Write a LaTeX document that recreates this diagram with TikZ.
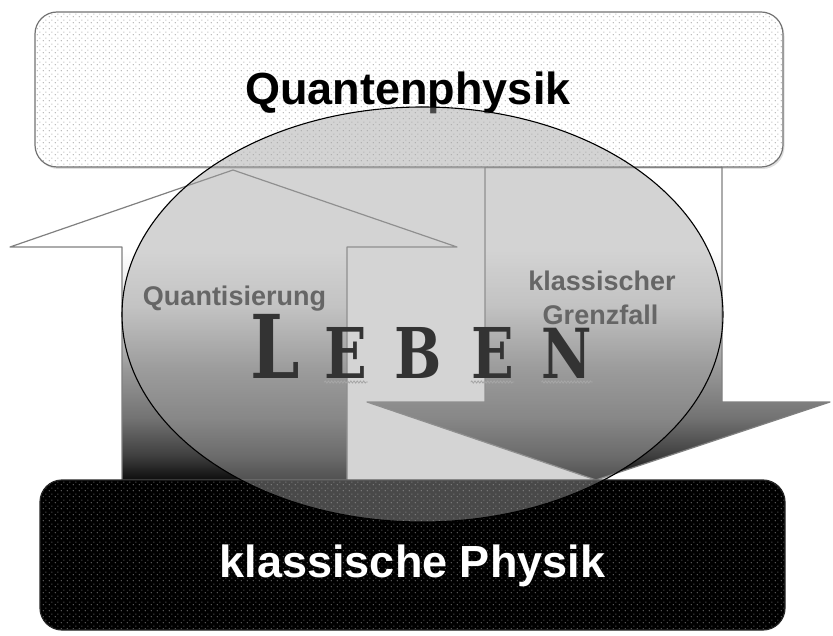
\documentclass[tikz,border=0pt]{standalone}
\usepackage{fontspec}
\setmainfont{Liberation Sans}
\newfontfamily\lebenfont{DejaVu Serif}
\usetikzlibrary{patterns, decorations.pathmorphing, shadows}

% Punktraster fuer die beiden Kaesten
\pgfdeclarepatternformonly{feinpunkte}{\pgfpointorigin}{\pgfqpoint{6pt}{6pt}}{\pgfqpoint{6pt}{6pt}}{%
  \pgfpathcircle{\pgfqpoint{1.5pt}{1.5pt}}{0.7pt}
  \pgfpathcircle{\pgfqpoint{4.5pt}{4.5pt}}{0.7pt}
  \pgfusepath{fill}}

% Verlauf der Pfeile: oben weiss, unten schwarz
\pgfdeclareverticalshading{pfeilverlauf}{100bp}{color(0bp)=(black!95); color(25bp)=(black!95);
  color(29bp)=(black!75); color(35bp)=(black!55); color(43bp)=(black!40);
  color(53bp)=(black!12); color(62bp)=(white); color(100bp)=(white)}

\begin{document}
\begin{tikzpicture}[x=1pt, y=-1pt, line cap=round, line join=round,
    kasten/.style={rounded corners=22pt, inner sep=0pt, line width=1.2pt},
    pfeil/.style={shading=pfeilverlauf, draw=black!50, line width=1.2pt},
    pfeiltext/.style={anchor=base, text=black!60, inner sep=0pt, font=\fontsize{27}{34}\selectfont\bfseries},
    titel/.style={anchor=base, font=\fontsize{45}{54}\selectfont\bfseries},
    buchstabe/.style={anchor=base, text=black!80, inner sep=0pt},
    kringel/.style={draw=black!35, line width=0.8pt, decorate,
      decoration={zigzag, segment length=3.2pt, amplitude=1.2pt}}]

  \useasboundingbox (0,0) rectangle (833,636);

  % --- Parameter ---
  \def\Rx{300.5}   % halbe Breite der Ellipse
  \def\Ry{207.5}   % halbe Hoehe der Ellipse
  \def\Basis{379}  % Grundlinie von LEBEN

  % --- Pfeil nach oben (Quantisierung) ---
  \coordinate (qspitze) at (233,170);
  \shadedraw[pfeil] (122,480) -- (122,247) -- (10,247) -- (qspitze)
    -- (457,247) -- (347,247) -- (347,480) -- cycle;

  % --- Pfeil nach unten (klassischer Grenzfall) ---
  \coordinate (kspitze) at (596,480);
  \shadedraw[pfeil] (485,167) -- (485,402) -- (367,402) -- (kspitze)
    -- (830,402) -- (722,402) -- (722,167) -- cycle;

  % --- Kaesten ---
  \node[kasten, draw=black!55, minimum width=748pt, minimum height=155pt,
    drop shadow={opacity=0.25, shadow xshift=1.5pt, shadow yshift=-2pt},
    preaction={fill=white}, pattern=feinpunkte, pattern color=black!35]
    (quant) at (409,89.5) {};
  \node[titel] (quanttext) at (408,105) {Quantenphysik};

  \node[kasten, draw=black!85, minimum width=745pt, minimum height=150pt,
    preaction={fill=black}, pattern=feinpunkte, pattern color=black!55]
    (klass) at (412.5,555) {};
  \node[titel, text=white] (klasstext) at (412.5,577) {klassische Physik};

  % --- Ellipse (halbdurchsichtig) ---
  \coordinate (mitte) at (422.5,314.5);
  \draw[fill=black!37, fill opacity=0.46, draw=black, line width=1.1pt]
    (mitte) ellipse [x radius=\Rx, y radius=\Ry];

  % --- Beschriftung der Pfeile ---
  \node[pfeiltext] (quanti) at (234.5,306) {Quantisierung};
  \node[pfeiltext] (grenz1) at (602,291) {klassischer};
  \node[pfeiltext] (grenz2) at (600.5,325) {Grenzfall};

  % --- LEBEN ---
  \foreach \ch/\xpos/\gr [count=\i] in {L/275/88, E/346/70, B/418/70, E/492.5/70, N/567/69}
    \node[buchstabe, font=\lebenfont\bfseries\fontsize{\gr}{\gr}\selectfont]
      (b\i) at (\xpos,\Basis) {\scalebox{0.8}[1]{\ch}};

  % Kringel unter E, E und N
  \foreach \i in {2,4,5}
    \draw[kringel] ([yshift=-3pt]b\i.base west) -- ([yshift=-3pt]b\i.base east);

\end{tikzpicture}
\end{document}
